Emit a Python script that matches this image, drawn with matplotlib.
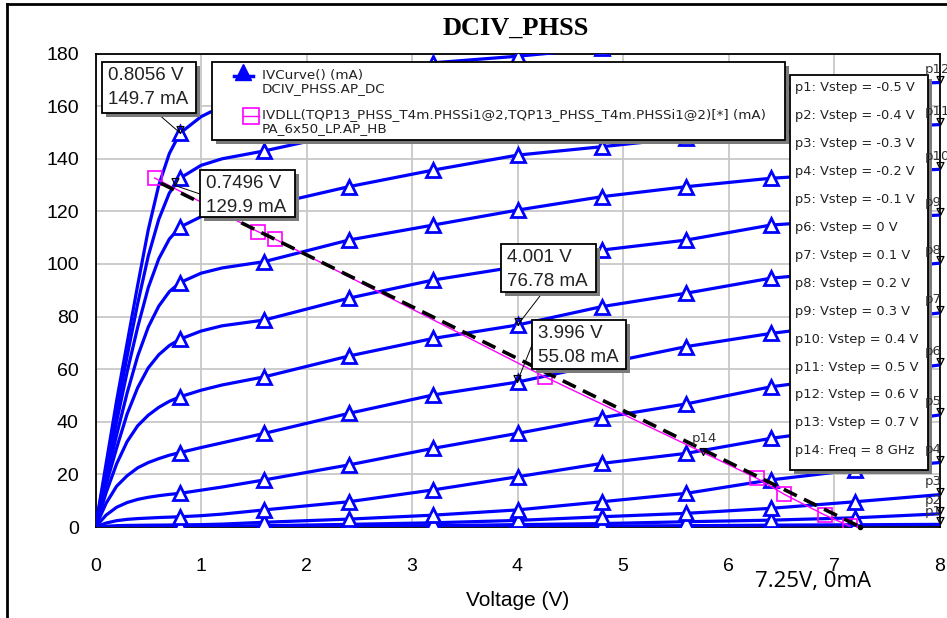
import numpy as np
import matplotlib.pyplot as plt
from matplotlib.patches import Rectangle
from matplotlib.lines import Line2D

plt.rcParams['font.family'] = 'Liberation Sans'

W, H = 947, 618

# drain voltage (V) at which the curves were read
volts = [0, 0.1, 0.2, 0.3, 0.4, 0.5, 0.6, 0.7, 0.8, 1.0, 1.2, 1.6,
         2.4, 3.2, 4.0, 4.8, 5.6, 6.4, 7.2, 8.0]

# drain current (mA), one list per Vstep
i_p1 = [0, 0, 0, 0, 0.01, 0.01, 0.01, 0.01, 0.02, 0.02, 0.03, 0.05,
        0.1, 0.15, 0.25, 0.4, 0.5, 0.7, 0.85, 1.0]
i_p2 = [0, 0.02, 0.03, 0.04, 0.05, 0.05, 0.06, 0.06, 0.07, 0.08, 0.1, 0.15,
        0.3, 0.5, 0.9, 1.3, 2.0, 2.6, 3.5, 5.0]
i_p3 = [0, 0.05, 0.1, 0.12, 0.14, 0.15, 0.16, 0.18, 0.2, 0.25, 0.3, 0.5,
        1.0, 1.6, 2.5, 3.9, 5.2, 7.1, 9.6, 12.3]
i_p4 = [0, 0.3, 0.5, 0.6, 0.65, 0.7, 0.72, 0.76, 0.8, 0.9, 1.1, 1.8,
        3.0, 4.5, 6.5, 9.6, 12.8, 17.9, 21.7, 24.5]
i_p5 = [0, 1.5, 2.4, 2.9, 3.2, 3.4, 3.6, 3.75, 3.9, 4.3, 4.9, 6.5,
        9.6, 14.1, 19.1, 24.2, 28.0, 33.7, 38.0, 42.6]
i_p6 = [0, 4.5, 7.5, 9.3, 10.5, 11.3, 11.9, 12.4, 12.8, 14.0, 15.2, 17.9,
        23.6, 29.9, 35.6, 41.6, 46.8, 53.3, 57.5, 61.6]
i_p7 = [0, 9, 15.5, 19.5, 22.5, 24.5, 26, 27.3, 28.3, 30.2, 32, 35.6,
        43.2, 50.2, 55.1, 62, 68.6, 73.6, 77.5, 81.4]
i_p8 = [0, 13, 24, 32.5, 38.5, 42.5, 45.5, 47.8, 49.5, 52, 54, 57.1,
        65, 71.7, 76.8, 83.8, 88.9, 94.6, 97.5, 100.3]
i_p9 = [0, 16, 30, 43, 53, 60.5, 65.5, 69, 71.4, 74.5, 76.5, 78.7,
        87, 93.9, 99, 105.3, 109.1, 114.8, 117, 118.6]
i_p10 = [0, 18, 35, 51, 65, 76, 84, 89.5, 92.9, 96.5, 98.5, 100.9,
         109.1, 114.8, 120.5, 125.6, 129.4, 132.6, 134.5, 136]
i_p11 = [0, 20, 40, 59, 76, 91, 102, 109.5, 114, 118, 120, 122,
         129.4, 135.7, 141.4, 144.6, 148, 150, 151.5, 153]
i_p12 = [0, 22, 44, 65, 85, 103, 117, 127, 132.6, 137.5, 140, 143,
         150, 155, 159, 162, 164.5, 166.5, 168, 169]
i_p13 = [0, 24, 48, 70, 92, 113, 130, 142, 149.7, 156, 160, 165.5,
         171.5, 176.5, 179, 182, 184.5, 186.5, 188, 190]
curves = [i_p1, i_p2, i_p3, i_p4, i_p5, i_p6, i_p7, i_p8, i_p9, i_p10,
          i_p11, i_p12, i_p13]

sweep_labels = ['p1: Vstep = -0.5 V', 'p2: Vstep = -0.4 V', 'p3: Vstep = -0.3 V',
                'p4: Vstep = -0.2 V', 'p5: Vstep = -0.1 V', 'p6: Vstep = 0 V',
                'p7: Vstep = 0.1 V', 'p8: Vstep = 0.2 V', 'p9: Vstep = 0.3 V',
                'p10: Vstep = 0.4 V', 'p11: Vstep = 0.5 V', 'p12: Vstep = 0.6 V',
                'p13: Vstep = 0.7 V', 'p14: Freq = 8 GHz']

# dynamic load line from HB
ll_v = [0.56, 1.54, 1.70, 4.26, 6.27, 6.53, 6.91, 7.15]
ll_i = [132.7, 112.3, 109.5, 57.1, 18.5, 12.4, 4.6, 0.3]
# drawn load line
dash_v = [0.62, 7.25]
dash_i = [130.7, 0]
p14_v, p14_i = 5.76, 27.5

# marker readouts
mk_v = [0.8056, 0.7496, 4.001, 3.996]
mk_i = [149.7, 129.9, 76.78, 55.08]

blue = '#0000ff'
mag = '#ff00ff'
tip_down = [(0, 0), (-0.55, 1.1), (0.55, 1.1), (0, 0)]


def fx(x):
    return x / W


def fy(y):
    return 1 - y / H


def box(x0, y0, x1, y1, z=5):
    fig.add_artist(Rectangle((fx(x0 + 4), fy(y1 + 4)), (x1 - x0) / W, (y1 - y0) / H,
                             transform=fig.transFigure, fc='#7a7a7a', ec='none', zorder=z))
    fig.add_artist(Rectangle((fx(x0), fy(y1)), (x1 - x0) / W, (y1 - y0) / H,
                             transform=fig.transFigure, fc='white', ec='black', lw=1.3, zorder=z + 0.1))


fig = plt.figure(figsize=(W / 100, H / 100), dpi=100)
ax = fig.add_axes([95.5 / W, 1 - 527 / H, 844 / W, 473.4 / H])

for c in curves:
    ax.plot(volts, c, color=blue, lw=2.3, marker='^', ms=10, mfc='white', mec=blue,
            mew=2, markevery=[8, 11, 12, 13, 14, 15, 16, 17, 18], zorder=3)

ax.plot(ll_v, ll_i, color=mag, lw=1.0, marker='s', ms=10, mfc='none', mec=mag, mew=1.2, zorder=4)
ax.plot(dash_v, dash_i, color='black', lw=2.6, ls=(0, (4, 2.2)), zorder=5)
ax.plot([dash_v[-1]], [dash_i[-1]], 'ko', ms=3, clip_on=False, zorder=5)

ax.set_xlim(0, 8)
ax.set_ylim(0, 180)
ax.set_xticks(range(0, 9))
ax.set_yticks(range(0, 181, 20))
ax.grid(True, color='#c8c8c8', lw=1.3)
ax.set_axisbelow(True)
ax.tick_params(length=0, labelsize=14)
ax.tick_params(axis='y', pad=12)
ax.tick_params(axis='x', pad=22)
for s in ax.spines.values():
    s.set_linewidth(1.3)
ax.set_xlabel('Voltage (V)', fontsize=15, labelpad=12)

# sweep markers at right edge, labels above the legend shadow
for k, c in enumerate(curves[:12]):
    ax.plot([volts[-1]], [c[-1]], marker=tip_down, ms=10, mfc='none', mec='black', mew=0.9,
            clip_on=False, zorder=6)
    px, py = ax.transData.transform((volts[-1], c[-1]))
    fig.text(fx(925), (py + 13) / H, 'p%d' % (k + 1), fontsize=9.5, color='#333333',
             family='DejaVu Sans', va='center', zorder=9)
ax.plot([p14_v], [p14_i], marker=tip_down, ms=10, mfc='none', mec='black', mew=0.9, zorder=6)
ax.annotate('p14', (p14_v, p14_i), xytext=(-8, 9), textcoords='offset points',
            fontsize=9.5, color='#333333', family='DejaVu Sans', zorder=6)

for v, i in zip(mk_v, mk_i):
    ax.plot([v], [i], marker=tip_down, ms=10, mfc='none', mec='black', mew=0.9, zorder=6)

fig.text(fx(516), fy(28), 'DCIV_PHSS', family='Liberation Serif', weight='bold',
         fontsize=19, ha='center', va='center')

# readout boxes with leader lines
boxes = [(102, 62, 196, 113), (200, 170, 295, 217), (501, 244, 596, 292), (532, 320, 626, 369)]
leads = [(157, 113), (200, 194), (543, 292), (532, 345)]
for (x0, y0, x1, y1), (lx, ly), v, i in zip(boxes, leads, mk_v, mk_i):
    px, py = ax.transData.transform((v, i))
    fig.add_artist(Line2D([fx(lx), px / W], [fy(ly), py / H], color='black', lw=0.7,
                          transform=fig.transFigure, zorder=6))
    box(x0, y0, x1, y1, z=7)
    fig.text(fx(x0 + 6), fy(y0 + 14), '%.4g V' % v, fontsize=13.5, color='#222222',
             va='center', zorder=8)
    fig.text(fx(x0 + 6), fy(y0 + 37), '%.4g mA' % i, fontsize=13.5, color='#222222',
             va='center', zorder=8)

# trace legend
box(212, 62, 785, 140, z=7)
fig.add_artist(Line2D([fx(234), fx(253)], [fy(76), fy(76)], color=blue, lw=2.5,
                      transform=fig.transFigure, zorder=8))
fig.add_artist(Line2D([fx(243)], [fy(72)], marker='^', ms=11, color=blue,
                      transform=fig.transFigure, zorder=8))
fig.add_artist(Line2D([fx(243), fx(259)], [fy(116), fy(116)], color=mag, lw=1,
                      transform=fig.transFigure, zorder=8))
fig.add_artist(Line2D([fx(251)], [fy(116)], marker='s', ms=11, mfc='none', mec=mag, mew=1.2,
                      transform=fig.transFigure, zorder=8))
leg_txt = [(75, 'IVCurve() (mA)'), (89, 'DCIV_PHSS.AP_DC'),
           (115, 'IVDLL(TQP13_PHSS_T4m.PHSSi1@2,TQP13_PHSS_T4m.PHSSi1@2)[*] (mA)'),
           (129, 'PA_6x50_LP.AP_HB')]
for y, t in leg_txt:
    fig.text(fx(262), fy(y), t, fontsize=9.7, color='#222222', va='center',
             family='DejaVu Sans', zorder=8)

# sweep legend
box(790, 75, 928, 470, z=7)
for k, t in enumerate(sweep_labels):
    fig.text(fx(795), fy(88 + 27.9 * k), t, fontsize=9.4, color='#222222', va='center',
             family='DejaVu Sans', zorder=8)

fig.text(fx(755), fy(581), '7.25V, 0mA', family='Open Sans', fontsize=16, va='center')

# window frame
fig.add_artist(Line2D([fx(7), fx(7)], [fy(4), fy(617)], color='black', lw=2, transform=fig.transFigure))
fig.add_artist(Line2D([fx(7), fx(947)], [fy(4), fy(4)], color='black', lw=2, transform=fig.transFigure))

fig.savefig('out.png', dpi=100)
